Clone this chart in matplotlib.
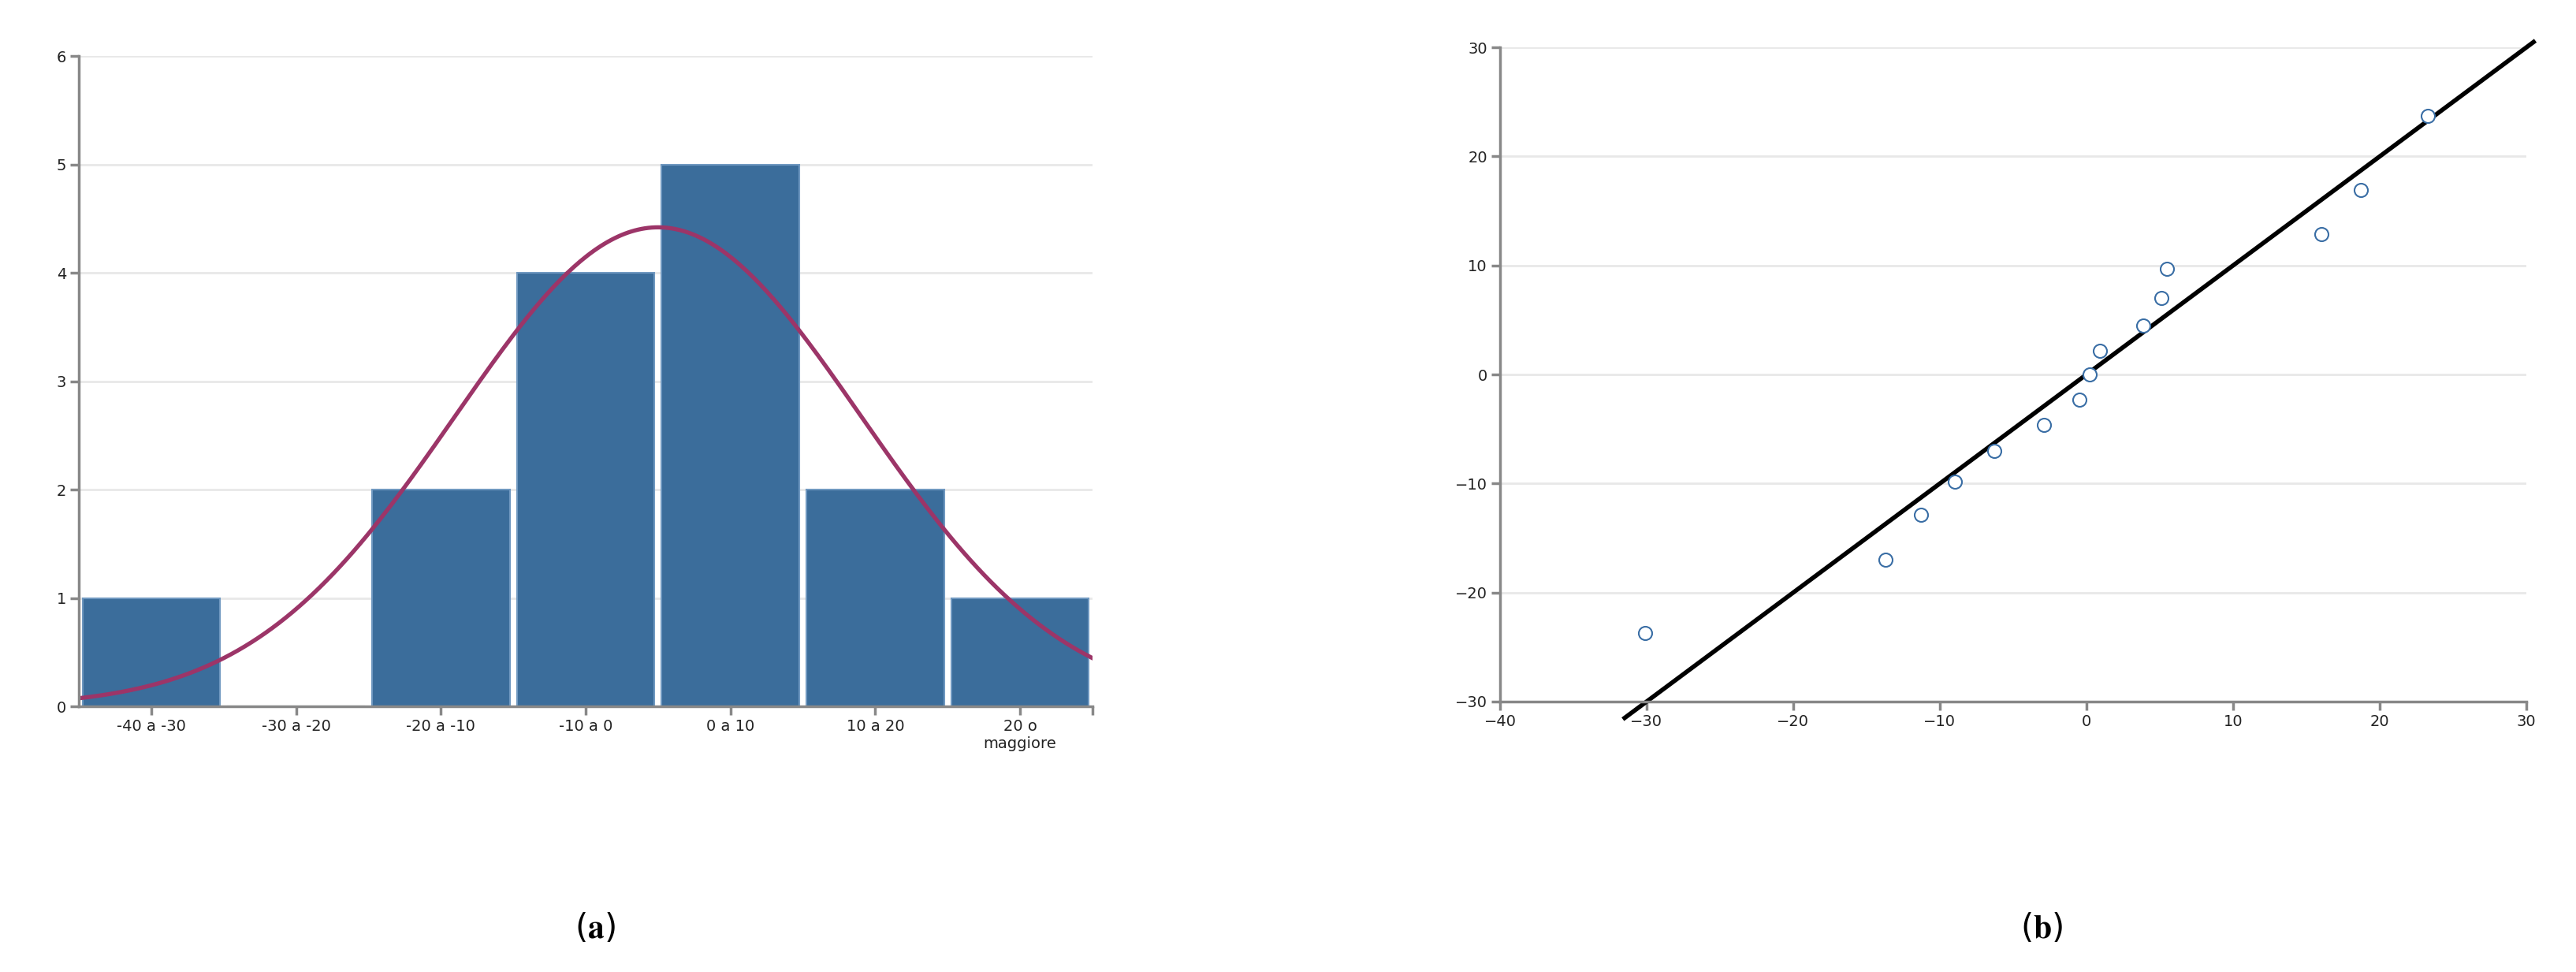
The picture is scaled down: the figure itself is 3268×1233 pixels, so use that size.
import numpy as np
import matplotlib.pyplot as plt

plt.rcParams['mathtext.fontset'] = 'stix'

# (a) histogram of residuals
bins = ['-40 a -30', '-30 a -20', '-20 a -10', '-10 a 0', '0 a 10', '10 a 20', '20 o\nmaggiore']
counts = [1, 0, 2, 4, 5, 2, 1]
# fitted normal curve, in bin-index units
curve_mu, curve_sigma, curve_peak = 3.5, 1.4, 4.42

# (b) normal probability plot
qq_x = [-30.1, -13.7, -11.3, -9.0, -6.3, -2.9, -0.5, 0.2, 0.9, 3.9, 5.1, 5.5, 16.0, 18.7, 23.3]
qq_y = [-23.7, -17.0, -12.9, -9.8, -7.0, -4.6, -2.3, 0.0, 2.2, 4.5, 7.0, 9.7, 12.9, 16.9, 23.7]
line_x = [-31.5, 30.5]

spine_c = '#888888'
grid_c = '#e8e8e8'

fig = plt.figure(figsize=(32.68, 12.33), dpi=100)
ax1 = fig.add_axes([0.0306, 0.2733, 0.3935, 0.669])
ax2 = fig.add_axes([0.5823, 0.2782, 0.3984, 0.673])

for ax in (ax1, ax2):
    for s in ('top', 'right'):
        ax.spines[s].set_visible(False)
    for s in ('left', 'bottom'):
        ax.spines[s].set_color(spine_c)
        ax.spines[s].set_linewidth(2.5)
    ax.tick_params(colors=spine_c, width=2.5, length=8, labelsize=14, labelcolor='#222222')
    ax.grid(axis='y', color=grid_c, lw=2)
    ax.set_axisbelow(True)

idx = np.arange(len(bins))
ax1.bar(idx, counts, width=0.95, color='#3b6d9b', edgecolor='#6f98c0', lw=1.5)
xs = np.linspace(-0.5, 6.5, 300)
ax1.plot(xs, curve_peak * np.exp(-(xs - curve_mu) ** 2 / (2 * curve_sigma ** 2)),
         color='#9c3568', lw=3.8)
ax1.set_xlim(-0.5, 6.5)
ax1.set_ylim(0, 6)
ax1.set_xticks(list(idx) + [6.5])
ax1.set_xticklabels(bins + [''])
ax1.set_yticks(range(7))

ax2.plot(line_x, line_x, color='black', lw=4, clip_on=False)
ax2.scatter(qq_x, qq_y, s=150, facecolor='white', edgecolor='#3a6ea5', lw=1.5, zorder=3)
ax2.set_xlim(-40, 30)
ax2.set_ylim(-30, 30)
ax2.set_xticks(range(-40, 31, 10))
ax2.set_yticks(range(-30, 31, 10))

fig.text(0.231, 0.045, r'($\mathbf{a}$)', ha='center', va='center', fontsize=30)
fig.text(0.7925, 0.045, r'($\mathbf{b}$)', ha='center', va='center', fontsize=30)

fig.savefig('out.png', dpi=100)
